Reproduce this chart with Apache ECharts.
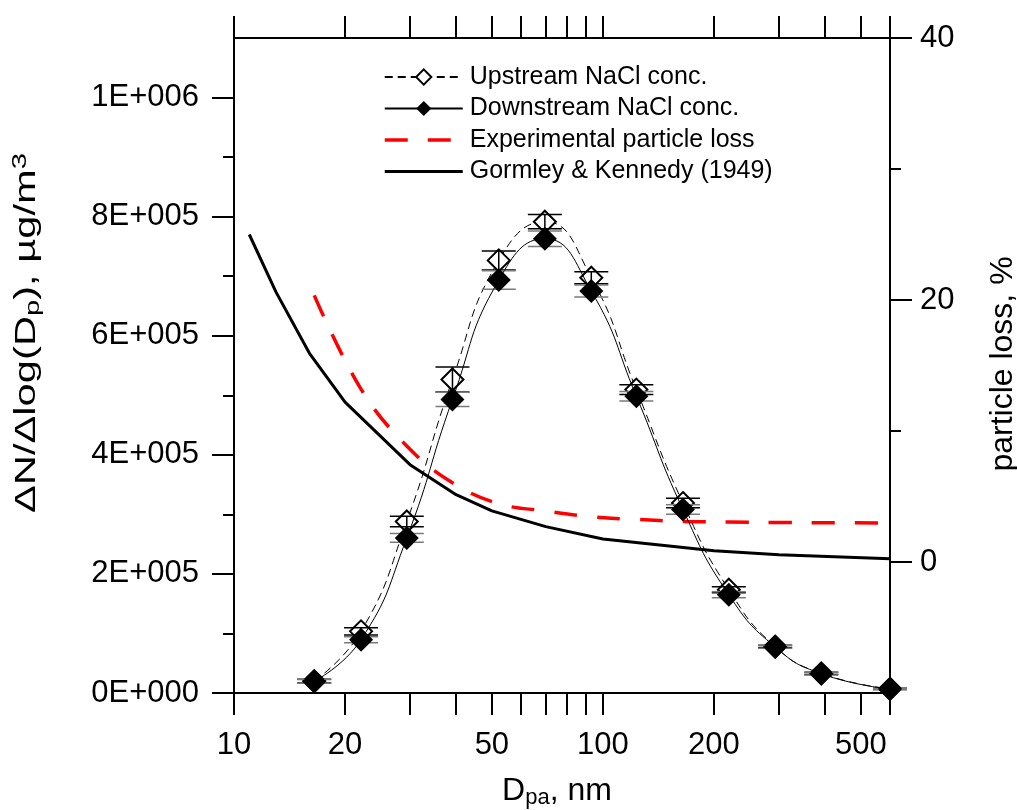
<!DOCTYPE html>
<html>
<head>
<meta charset="utf-8">
<script src="https://cdn.jsdelivr.net/npm/echarts@6/dist/echarts.min.js"></script>
<style>
html, body { margin: 0; padding: 0; background: #fff; }
#chart { width: 1017px; height: 810px; }
</style>
</head>
<body>
<div id="chart"></div>
<script>
const FONT = '"Liberation Sans", Arial, Helvetica, sans-serif';

// Particle mobility diameters, nm
const sizes = [16.5, 22.1, 29.4, 39.1, 52.2, 69.6, 93.0, 123.2, 164.8, 219.4, 293.0, 390.8, 600];
// NaCl size distributions, dN/dlog(Dp)
const upstream   = [20000, 103500, 288000, 526500, 726500, 791500, 697500, 509500, 319000, 173500, 78000, 33000, 7000];
const downstream = [19500, 89500, 260500, 493000, 693500, 763000, 675000, 498500, 308000, 165000, 77300, 32400, 6700];
const upstreamErr   = [3000, 6000, 9000, 21000, 16000, 12000, 10000, 8000, 8000, 5000, 2000, 2000, 1000];
const downstreamErr = [3000, 5000, 7500, 12000, 15500, 13000, 10000, 8000, 8000, 5000, 2000, 2000, 1000];

// Measured particle loss, %
const expLoss = [20.35, 13.2, 8.85, 6.05, 4.45, 3.9, 3.45, 3.25, 3.1, 3.05, 3.02, 3.0, 2.98];

// Gormley & Kennedy diffusion loss, %
const gkSizes = [11, 13, 16, 20, 30, 40, 50, 70, 100, 200, 300, 600];
const gkLoss  = [25.0, 20.6, 15.95, 12.2, 7.43, 5.14, 3.9, 2.7, 1.76, 0.86, 0.56, 0.25];

// Axis ticks and labels
const xTickValues  = [10, 20, 30, 40, 50, 60, 70, 80, 90, 100, 200, 300, 400, 500, 600];
const xLabelValues = [10, 20, 50, 100, 200, 500];
const leftMajorTicks = [0, 200000, 400000, 600000, 800000, 1000000];
const leftTickLabels = ['0E+000', '2E+005', '4E+005', '6E+005', '8E+005', '1E+006'];
const leftMinorTicks = [100000, 300000, 500000, 700000, 900000];
const rightMajorTicks = [0, 20, 40];
const rightMinorTicks = [10, 30];

const seriesNames = ['Upstream NaCl conc.', 'Downstream NaCl conc.', 'Experimental particle loss', 'Gormley & Kennedy (1949)'];

const pairs = (xs, ys) => xs.map((x, i) => [x, ys[i]]);

function errorBars(name, vals, errs, color, z) {
  return {
    type: 'custom',
    name: name,
    xAxisIndex: 0,
    yAxisIndex: 0,
    z: z,
    silent: true,
    data: sizes.map((x, i) => [x, vals[i] - errs[i], vals[i] + errs[i]]),
    encode: { x: 0, y: [1, 2] },
    renderItem: function (params, api) {
      const lo = api.coord([api.value(0), api.value(1)]);
      const hi = api.coord([api.value(0), api.value(2)]);
      const hw = 17;
      const style = { stroke: color, lineWidth: 1.5, fill: null };
      return {
        type: 'group',
        children: [
          { type: 'line', shape: { x1: lo[0], y1: lo[1], x2: hi[0], y2: hi[1] }, style: style },
          { type: 'line', shape: { x1: lo[0] - hw, y1: lo[1], x2: lo[0] + hw, y2: lo[1] }, style: style },
          { type: 'line', shape: { x1: hi[0] - hw, y1: hi[1], x2: hi[0] + hw, y2: hi[1] }, style: style }
        ]
      };
    }
  };
}

const axisLineStyle = { color: '#000', width: 2 };
const tickLabel = { color: '#000', fontSize: 31, fontFamily: FONT };

const logAxis = (pos, showLabels) => ({
  type: 'log',
  logBase: 10,
  min: 10,
  max: 600,
  position: pos,
  axisLine: { show: true, onZero: false, lineStyle: axisLineStyle },
  axisTick: { show: true, inside: false, length: 22, lineStyle: { color: '#000', width: 2 }, customValues: xTickValues },
  axisLabel: Object.assign({
    show: showLabels,
    margin: 37,
    customValues: xLabelValues,
    formatter: v => String(Math.round(v))
  }, tickLabel),
  splitLine: { show: false },
  minorTick: { show: false },
  minorSplitLine: { show: false }
});

const valueAxis = (pos, min, max, ticks, tickLen, showLine, labels, margin) => ({
  type: 'value',
  min: min,
  max: max,
  position: pos,
  offset: 0,
  axisLine: { show: showLine, onZero: false, lineStyle: axisLineStyle },
  axisTick: { show: true, inside: false, length: tickLen, lineStyle: { color: '#000', width: 2 }, customValues: ticks },
  axisLabel: Object.assign({
    show: !!labels,
    margin: margin || 8,
    customValues: ticks,
    formatter: labels ? (v => labels(v)) : undefined
  }, tickLabel),
  splitLine: { show: false },
  minorTick: { show: false }
});

const option = {
  animation: false,
  backgroundColor: '#fff',
  textStyle: { fontFamily: FONT, color: '#000' },
  grid: { left: 234, top: 38, width: 656, height: 655, containLabel: false, outerBoundsMode: 'none' },
  xAxis: [logAxis('bottom', true), logAxis('top', false)],
  yAxis: [
    valueAxis('left', 0, 1100000, leftMajorTicks, 22, true,
      v => leftTickLabels[leftMajorTicks.indexOf(Math.round(v))] || '', 35),
    valueAxis('left', 0, 1100000, leftMinorTicks, 11, false, null),
    valueAxis('right', -10, 40, rightMajorTicks, 22, true, v => String(Math.round(v)), 30),
    valueAxis('right', -10, 40, rightMinorTicks, 11, false, null)
  ],
  legend: {
    data: [
      { name: seriesNames[0] },
      { name: seriesNames[1] },
      { name: seriesNames[2], lineStyle: { width: 3.5 } },
      { name: seriesNames[3], lineStyle: { width: 3 } }
    ],
    orient: 'vertical',
    left: 383,
    top: 64.5,
    padding: 0,
    itemWidth: 78,
    itemHeight: 19,
    itemGap: 6.5,
    selectedMode: false,
    textStyle: { fontSize: 25, color: '#000', fontFamily: FONT, padding: [0, 0, 0, 2] }
  },
  series: [
    {
      name: seriesNames[2],
      type: 'line',
      xAxisIndex: 0,
      yAxisIndex: 2,
      data: pairs(sizes, expLoss),
      symbol: 'none',
      smooth: 0.4,
      lineStyle: { color: '#ff0000', width: 3.5, type: [23, 20] },
      itemStyle: { color: '#ff0000', opacity: 0 },
      z: 2
    },
    {
      name: seriesNames[3],
      type: 'line',
      xAxisIndex: 0,
      yAxisIndex: 2,
      data: pairs(gkSizes, gkLoss),
      symbol: 'none',
      lineStyle: { color: '#000', width: 3 },
      itemStyle: { color: '#000', opacity: 0 },
      z: 2
    },
    {
      name: seriesNames[0],
      type: 'line',
      xAxisIndex: 0,
      yAxisIndex: 0,
      data: pairs(sizes, upstream),
      symbol: 'diamond',
      symbolSize: 22,
      smooth: 0.5,
      lineStyle: { color: '#000', width: 1, type: [8, 5] },
      itemStyle: { color: '#fff', borderColor: '#000', borderWidth: 2 },
      z: 3
    },
    errorBars('upstream error', upstream, upstreamErr, '#000', 4),
    errorBars('downstream error', downstream, downstreamErr, '#7a7a7a', 4),
    {
      name: seriesNames[1],
      type: 'line',
      xAxisIndex: 0,
      yAxisIndex: 0,
      data: pairs(sizes, downstream),
      symbol: 'diamond',
      symbolSize: 24,
      smooth: 0.5,
      lineStyle: { color: '#000', width: 1 },
      itemStyle: { color: '#000', borderColor: '#000', borderWidth: 0 },
      z: 5
    }
  ],
  graphic: [
    {
      type: 'text',
      x: 557,
      y: 791,
      style: {
        text: 'D{sub|pa}, nm',
        fontSize: 32,
        fontFamily: FONT,
        fill: '#000',
        align: 'center',
        verticalAlign: 'middle',
        rich: { sub: { fontSize: 22, fontFamily: FONT, padding: [14, 0, 0, 0] } }
      }
    },
    {
      type: 'text',
      x: 1003,
      y: 364,
      rotation: Math.PI / 2,
      style: {
        text: 'particle loss, %',
        fontSize: 32,
        fontFamily: FONT,
        fill: '#000',
        align: 'center',
        verticalAlign: 'middle'
      }
    },
    {
      type: 'text',
      x: 27,
      y: 333,
      rotation: Math.PI / 2,
      scaleX: 1.39,
      style: {
        text: 'ΔN/Δlog(D{sub|p}), µg/m{sup|3}',
        fontSize: 30,
        fontFamily: FONT,
        fill: '#000',
        align: 'center',
        verticalAlign: 'middle',
        rich: {
          sub: { fontSize: 21, fontFamily: FONT, padding: [13, 0, 0, 0] },
          sup: { fontSize: 21, fontFamily: FONT, padding: [0, 0, 13, 0] }
        }
      }
    }
  ]
};

const chart = echarts.init(document.getElementById('chart'), null, { renderer: 'canvas' });
chart.setOption(option);
</script>
</body>
</html>
